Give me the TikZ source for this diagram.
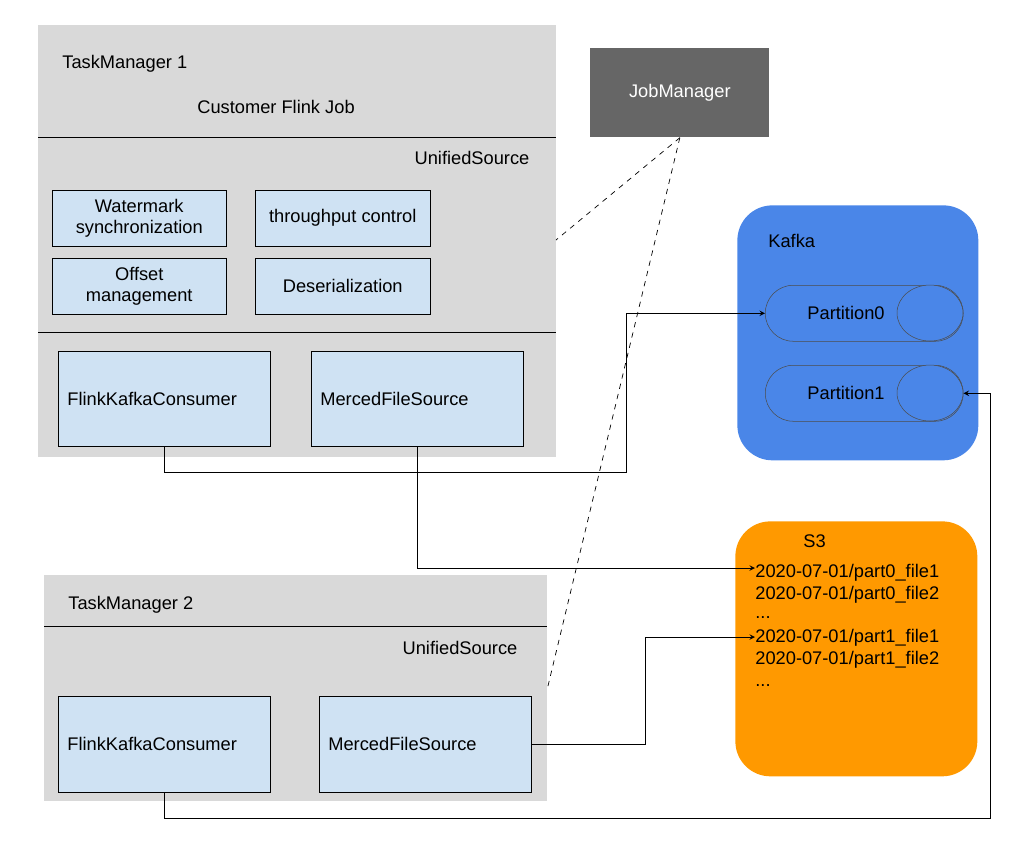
\documentclass[tikz,border=0pt]{standalone}
\usepackage{fontspec}
\setmainfont{Liberation Sans}
\usepackage{xcolor}
\definecolor{Panel}{RGB}{217,217,217}
\definecolor{Part}{RGB}{207,226,243}
\definecolor{JobGray}{RGB}{102,102,102}
\definecolor{KafkaBlue}{RGB}{74,134,232}
\definecolor{SOrange}{RGB}{255,153,0}
\usetikzlibrary{positioning}

\tikzset{
	panel/.style={fill=Panel, draw=none},
	part/.style={fill=Part, draw=black, line width=0.3pt, align=center},
	store/.style={draw=none, rounded corners=0.7cm},
	queue/.style={fill=KafkaBlue, draw=black!70, line width=0.3pt, rounded corners=0.56cm, minimum width=3.96cm, minimum height=1.12cm},
	link/.style={-stealth, line width=0.4pt},
	ctrl/.style={dashed, line width=0.4pt},
	lbl/.style={inner sep=0pt, anchor=west},
}

\begin{document}
\begin{tikzpicture}[x=0.02cm, y=-0.02cm, font=\fontsize{10.4}{12.2}\selectfont]
		\useasboundingbox (0,0) rectangle (1033,840);
		
		% TaskManager 1
		\node[panel, anchor=north west, minimum width=10.36cm, minimum height=8.64cm] (tm1) at (38,25) {};
		\draw[line width=0.5pt] (38,137) -- (556,137);
		\draw[line width=0.5pt] (38,332) -- (556,332);
		\node[lbl] (tm1title) at (62,64) {TaskManager 1};
		\node (job) at (276,107) {Customer Flink Job};
		\node (us1) at (472,158) {UnifiedSource};
		
		\node[part, anchor=north west, minimum width=3.48cm, minimum height=1.12cm] (wm) at (52,190) {Watermark\\synchronization};
		\node[part, anchor=north west, minimum width=3.5cm, minimum height=1.12cm] (tp) at (255,190) {throughput control};
		\node[part, anchor=north west, minimum width=3.48cm, minimum height=1.12cm] (om) at (52,258) {Offset\\management};
		\node[part, anchor=north west, minimum width=3.5cm, minimum height=1.12cm] (ds) at (255,258) {Deserialization};
		
		\node[part, anchor=north west, minimum width=4.24cm, minimum height=1.9cm] (fkc1) at (58,351) {};
		\node[lbl] at (67,399) {FlinkKafkaConsumer};
		\node[part, anchor=north west, minimum width=4.24cm, minimum height=1.9cm] (mfs1) at (311,351) {};
		\node[lbl] at (320,399) {MercedFileSource};
		
		% TaskManager 2
		\node[panel, anchor=north west, minimum width=10.06cm, minimum height=4.52cm] (tm2) at (44,575) {};
		\draw[line width=0.5pt] (44,626) -- (547,626);
		\node[lbl] (tm2title) at (68,605) {TaskManager 2};
		\node (us2) at (460,648) {UnifiedSource};
		
		\node[part, anchor=north west, minimum width=4.24cm, minimum height=1.92cm] (fkc2) at (58,696) {};
		\node[lbl] at (67,744) {FlinkKafkaConsumer};
		\node[part, anchor=north west, minimum width=4.24cm, minimum height=1.92cm] (mfs2) at (319,696) {};
		\node[lbl] at (328,744) {MercedFileSource};
		
		% JobManager
		\node[fill=JobGray, text=white, anchor=north west, minimum width=3.58cm, minimum height=1.78cm] (jm) at (590,48) {JobManager};
		
		% Kafka
		\node[store, fill=KafkaBlue, anchor=north west, minimum width=4.82cm, minimum height=5.1cm] (kafka) at (737,205) {};
		\node[lbl] at (768,241) {Kafka};
		\node[queue, anchor=north west] (p0) at (765,285) {};
		\draw[fill=KafkaBlue, draw=black!70, line width=0.3pt] (930,313) ellipse (33 and 28);
		\node at (846,313) {Partition0};
		\node[queue, anchor=north west] (p1) at (765,365) {};
		\draw[fill=KafkaBlue, draw=black!70, line width=0.3pt] (930,393) ellipse (33 and 28);
		\node at (846,393) {Partition1};
		
		% S3
		\node[store, fill=SOrange, anchor=north west, minimum width=4.84cm, minimum height=5.1cm] (s3) at (735,521) {};
		\node[lbl] at (803,541) {S3};
		\node[lbl] (f00) at (755,573) {2020-07-01/part0\_file1};
		\node[lbl] (f01) at (755,595) {2020-07-01/part0\_file2};
		\node[lbl] at (755,618) {...};
		\node[lbl] (f10) at (755,638) {2020-07-01/part1\_file1};
		\node[lbl] (f11) at (755,660) {2020-07-01/part1\_file2};
		\node[lbl] at (755,685) {...};
		\coordinate (in00) at (755,568);
		\coordinate (in10) at (755,637);
		
		% Connectors
		\draw[link] (fkc1.south) |- (626,472) |- (p0.west);
		\draw[link] (mfs1.south) |- (in00);
		\draw[link] (mfs2.east) -| (645,637) -- (in10);
		\draw[link] (fkc2.south) |- (990,818) |- (p1.east);
		\draw[ctrl] (jm.south) -- (556,240);
		\draw[ctrl] (jm.south) -- (547,690);
		
	\end{tikzpicture}
\end{document}
